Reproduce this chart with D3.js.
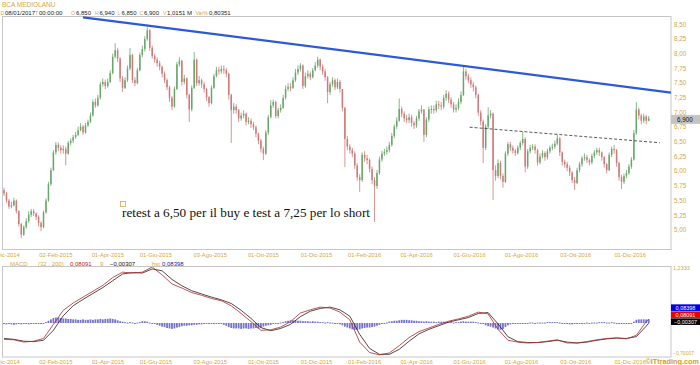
<!DOCTYPE html>
<html><head><meta charset="utf-8">
<script src="https://cdn.jsdelivr.net/npm/d3@7"></script>
<style>body{margin:0;background:#fff}svg{display:block}</style>
</head><body><svg id="c" width="700" height="365"></svg>
<script>
// ---------------- DATA (one candle = 2 trading days) ----------------
const title = "BCA MEDIOLANU";
const headerKeys = ["D","T","O","H","L","C","V","Var%"];
const headerVals = ["08/01/2017","00:00:00","6,850","6,940","6,850","6,900","1,0151 M","0,80351"];
const firstOpen = 5.68;
const close = [
5.62,5.50,5.40,5.42,5.50,5.32,5.10,4.92,5.05,5.15,
5.26,5.32,5.28,5.22,5.12,5.05,5.30,5.50,5.78,6.02,
6.32,6.45,6.40,6.36,6.38,6.30,6.48,6.52,6.58,6.62,
6.70,6.76,6.66,6.78,6.84,6.95,7.18,7.12,7.25,7.48,
7.52,7.45,7.52,7.67,7.95,8.06,7.92,7.58,7.42,7.55,
7.75,7.98,7.55,7.50,7.72,7.98,8.08,8.25,8.40,8.10,
7.96,7.90,7.84,7.78,7.66,7.55,7.43,7.25,7.10,7.40,
7.82,7.88,7.52,7.58,7.30,7.05,7.42,7.90,7.50,7.55,
7.48,7.40,7.26,7.16,7.42,7.62,7.72,7.70,7.74,7.72,
7.66,7.30,7.04,7.10,7.04,6.90,6.95,6.98,6.84,6.86,
6.80,6.75,6.64,6.52,6.38,6.30,6.66,6.92,7.12,7.18,
6.94,7.04,7.08,7.25,7.40,7.44,7.42,7.55,7.68,7.74,
7.80,7.45,7.62,7.66,7.60,7.72,7.80,7.90,7.78,7.70,
7.60,7.35,7.48,7.55,7.43,7.52,7.40,7.08,6.55,6.42,
6.36,6.30,6.10,5.90,5.85,6.28,6.22,6.19,6.04,5.85,
5.75,5.97,6.20,6.30,6.33,6.36,6.45,6.60,6.76,6.86,
7.06,6.98,6.90,6.87,6.92,6.82,6.78,6.90,7.02,7.05,
6.62,6.88,7.05,7.06,7.04,7.14,7.12,7.10,7.25,7.32,
7.22,7.14,7.05,7.08,7.18,7.30,7.70,7.62,7.55,7.48,
7.43,7.30,7.00,6.85,6.40,6.76,6.95,6.98,6.02,5.92,
6.14,5.92,5.82,6.30,6.46,6.40,6.35,6.31,6.40,6.48,
6.55,6.08,6.34,6.40,6.42,6.36,6.15,6.25,6.31,6.24,
6.34,6.40,6.42,6.47,6.56,6.32,6.16,6.12,6.06,5.98,
5.85,5.80,6.02,6.12,6.22,6.24,6.19,6.15,6.26,6.32,
6.36,6.32,6.24,6.12,6.02,6.28,6.38,6.36,6.14,5.90,
5.82,5.92,5.97,6.08,6.20,6.65,7.05,6.95,6.86,6.93,
6.86,6.90];
const high = [
5.72,5.65,5.53,5.48,5.55,5.52,5.34,5.12,5.08,5.20,
5.32,5.36,5.36,5.30,5.25,5.15,5.33,5.54,5.82,6.06,
6.36,6.50,6.49,6.44,6.44,6.42,6.52,6.56,6.62,6.67,
6.76,6.82,6.79,6.82,6.88,7.00,7.22,7.24,7.30,7.52,
7.58,7.56,7.58,7.72,8.00,8.18,8.10,7.94,7.62,7.60,
7.80,8.10,8.00,7.60,7.76,8.02,8.14,8.30,8.45,8.42,
8.14,8.00,7.94,7.88,7.80,7.70,7.58,7.46,7.28,7.44,
7.86,7.94,7.90,7.64,7.60,7.32,7.46,8.03,7.92,7.62,
7.58,7.52,7.42,7.28,7.46,7.66,7.78,7.78,7.80,7.80,
7.76,7.68,7.32,7.16,7.14,7.06,7.00,7.04,7.00,6.92,
6.90,6.84,6.78,6.66,6.55,6.42,6.70,6.96,7.21,7.22,
7.20,7.08,7.14,7.30,7.46,7.50,7.50,7.60,7.74,7.80,
7.84,7.82,7.68,7.72,7.70,7.76,7.86,7.95,7.92,7.82,
7.74,7.62,7.52,7.60,7.58,7.58,7.56,7.40,7.10,6.60,
6.46,6.40,6.34,6.14,5.95,6.32,6.34,6.28,6.22,6.08,
5.90,6.02,6.25,6.35,6.38,6.42,6.50,6.65,6.80,6.92,
7.24,7.10,7.02,6.96,6.98,6.96,6.86,6.94,7.06,7.12,
7.06,6.92,7.10,7.12,7.12,7.20,7.20,7.18,7.30,7.38,
7.36,7.26,7.18,7.14,7.24,7.36,7.78,7.74,7.66,7.60,
7.52,7.46,7.32,7.04,6.88,6.80,7.09,7.04,7.00,6.10,
6.20,6.18,5.96,6.34,6.50,6.50,6.44,6.38,6.44,6.52,
6.67,6.58,6.38,6.45,6.46,6.46,6.38,6.30,6.36,6.34,
6.38,6.44,6.47,6.52,6.62,6.58,6.34,6.20,6.16,6.10,
6.00,5.90,6.06,6.16,6.26,6.30,6.28,6.22,6.30,6.36,
6.40,6.40,6.34,6.26,6.14,6.32,6.42,6.45,6.38,6.16,
5.94,5.96,6.02,6.12,6.24,6.70,7.18,7.08,6.98,6.98,
6.96,6.94];
const low = [
5.58,5.46,5.36,5.37,5.40,5.28,5.06,4.86,4.90,5.02,
5.12,5.22,5.24,5.17,5.06,4.98,5.03,5.28,5.48,5.75,
6.00,6.28,6.34,6.30,6.30,6.10,6.28,6.44,6.48,6.55,
6.60,6.68,6.62,6.64,6.75,6.82,6.93,7.08,7.10,7.22,
7.44,7.40,7.42,7.50,7.65,7.92,7.86,7.52,7.35,7.40,
7.52,7.72,7.50,7.45,7.48,7.70,7.94,8.04,8.22,8.05,
7.92,7.85,7.78,7.72,7.60,7.50,7.38,7.18,7.04,7.08,
7.38,7.78,7.46,7.48,7.24,6.84,7.02,7.40,7.45,7.46,
7.42,7.34,7.20,7.10,7.14,7.40,7.60,7.64,7.66,7.66,
7.60,7.22,6.48,6.98,6.98,6.84,6.86,6.90,6.78,6.80,
6.74,6.70,6.58,6.46,6.32,6.19,6.28,6.62,6.90,7.08,
6.90,6.90,7.00,7.06,7.22,7.36,7.36,7.40,7.52,7.64,
7.70,7.40,7.42,7.58,7.55,7.58,7.70,7.76,7.72,7.64,
7.54,7.16,7.30,7.44,7.38,7.40,7.34,7.02,6.07,6.36,
6.30,6.24,6.04,5.84,5.65,5.82,6.16,6.12,5.98,5.78,
5.14,5.70,5.94,6.16,6.26,6.28,6.32,6.42,6.56,6.72,
6.84,6.92,6.84,6.82,6.82,6.76,6.72,6.74,6.86,6.98,
6.50,6.58,6.84,6.98,6.98,7.00,7.06,7.04,7.06,7.20,
7.16,7.08,7.00,7.00,7.04,7.14,7.28,7.56,7.50,7.42,
7.36,7.24,6.94,6.78,6.14,6.36,6.72,6.90,5.51,5.84,
5.88,5.86,5.72,5.80,6.26,6.34,6.30,6.26,6.28,6.36,
6.44,5.98,6.04,6.30,6.36,6.30,6.10,6.12,6.22,6.18,
6.20,6.30,6.36,6.38,6.44,6.26,6.10,6.06,6.00,5.92,
5.80,5.68,5.78,5.98,6.08,6.18,6.14,6.10,6.12,6.22,
6.28,6.26,6.18,6.06,5.96,6.00,6.24,6.30,6.08,5.84,
5.70,5.78,5.88,5.94,6.04,6.18,6.62,6.88,6.80,6.82,
6.80,6.85];
const hist = [
-0.02,-0.03,-0.02,-0.03,-0.04,-0.03,-0.02,-0.03,-0.02,-0.02,
-0.03,-0.02,-0.01,-0.02,-0.02,-0.01,0.00,0.02,0.05,0.08,
0.11,0.12,0.12,0.11,0.10,0.10,0.09,0.09,0.08,0.08,
0.07,0.07,0.08,0.07,0.07,0.08,0.07,0.08,0.08,0.09,
0.08,0.09,0.09,0.10,0.09,0.08,0.06,0.04,0.03,0.02,
0.01,0.02,0.01,0.00,0.01,0.02,0.04,0.04,0.03,0.01,
-0.01,-0.02,-0.04,-0.06,-0.08,-0.09,-0.11,-0.12,-0.13,-0.12,
-0.10,-0.09,-0.07,-0.06,-0.06,-0.05,-0.05,-0.04,-0.04,-0.03,
-0.03,-0.02,-0.02,-0.01,-0.01,-0.01,0.00,-0.01,-0.02,-0.04,
-0.06,-0.09,-0.11,-0.12,-0.12,-0.12,-0.13,-0.12,-0.12,-0.13,
-0.12,-0.12,-0.11,-0.12,-0.10,-0.08,-0.06,-0.05,-0.04,-0.02,
-0.01,0.00,0.01,0.02,0.04,0.05,0.06,0.06,0.06,0.05,
0.05,0.04,0.04,0.04,0.03,0.04,0.03,0.03,0.02,0.02,
0.01,0.02,0.01,0.01,0.00,-0.01,-0.03,-0.05,-0.08,-0.10,
-0.12,-0.14,-0.15,-0.15,-0.14,-0.12,-0.11,-0.10,-0.10,-0.09,
-0.08,-0.06,-0.04,-0.02,0.00,0.01,0.03,0.04,0.05,0.05,
0.06,0.07,0.07,0.07,0.06,0.06,0.05,0.05,0.04,0.04,
0.03,0.04,0.03,0.03,0.03,0.02,0.03,0.03,0.03,0.02,
0.02,0.02,0.01,0.02,0.02,0.03,0.04,0.03,0.03,0.03,
0.03,0.02,0.01,0.00,-0.02,-0.05,-0.07,-0.08,-0.10,-0.12,
-0.14,-0.15,-0.13,-0.09,-0.05,-0.03,-0.02,-0.01,0.00,-0.01,
0.00,-0.01,0.00,0.01,0.01,0.00,0.01,0.01,0.01,0.01,
0.02,0.02,0.02,0.02,0.02,0.01,-0.01,-0.02,-0.02,-0.03,
-0.03,-0.02,-0.02,-0.01,0.00,0.00,0.01,0.00,0.01,0.01,
0.01,0.02,0.02,0.02,0.01,0.01,0.02,0.01,0.00,-0.01,
-0.01,-0.01,0.00,-0.01,0.00,0.03,0.07,0.08,0.08,0.08,
0.08,0.08398];
const macdIdx = [0,4,8,12,16,20,24,28,32,36,40,44,48,52,56,60,64,68,72,76,80,84,88,92,96,100,
104,108,112,116,120,124,128,132,136,140,144,148,152,156,160,164,168,172,176,180,184,188,192,196,
200,204,208,212,216,220,224,228,232,236,240,244,248,252,256,260,261];
const macdLine = [-0.36,-0.37,-0.42,-0.40,-0.34,-0.03,0.28,0.44,0.57,0.70,0.83,1.00,1.12,1.10,1.12,1.2333,
1.06,0.86,0.77,0.67,0.61,0.54,0.49,0.38,0.21,0.03,-0.16,-0.15,-0.09,0.03,0.22,0.29,0.35,0.33,0.24,0.07,
-0.42,-0.65,-0.70,-0.66,-0.50,-0.32,-0.19,-0.11,-0.03,0.04,0.09,0.15,0.24,0.20,-0.14,-0.38,-0.42,-0.44,
-0.43,-0.40,-0.37,-0.44,-0.44,-0.41,-0.37,-0.34,-0.33,-0.35,-0.27,0.03,0.08091];
const signalLine = [-0.34,-0.36,-0.40,-0.41,-0.38,-0.16,0.16,0.38,0.52,0.65,0.78,0.93,1.08,1.11,1.10,1.19,
1.15,0.96,0.82,0.71,0.64,0.57,0.51,0.43,0.28,0.10,-0.10,-0.17,-0.12,-0.03,0.14,0.26,0.32,0.35,0.29,0.15,
-0.25,-0.56,-0.69,-0.69,-0.58,-0.40,-0.24,-0.14,-0.06,0.02,0.07,0.12,0.21,0.23,-0.02,-0.30,-0.41,-0.43,
-0.43,-0.41,-0.38,-0.42,-0.44,-0.42,-0.38,-0.35,-0.33,-0.34,-0.30,-0.07,-0.00307];
const macdMax = 1.2333, macdMin = -0.70007;
const priceTicks = [5.00,5.25,5.50,5.75,6.00,6.25,6.50,6.75,7.00,7.25,7.50,7.75,8.00,8.25,8.50];
const tickIdx = [0,21,42,61.5,83.5,105,126.5,146,167,188.5,209.5,231.5,253.5];
const tickLabels = ["01-Dic-2014","02-Feb-2015","01-Apr-2015","01-Giu-2015","03-Ago-2015","01-Ott-2015",
"01-Dic-2015","01-Feb-2016","01-Apr-2016","01-Giu-2016","01-Ago-2016","03-Ott-2016","01-Dic-2016"];
const trendIdx = [32,270], trendPrice = [8.62,7.34];
const supportIdx = [188.5,265.5], supportPrice = [6.75,6.485];
const note = "retest a 6,50 per il buy e test a 7,25 per lo short";

// ---------------- DRAWING ----------------
const svg = d3.select("#c");
const gold = "#d4a843", font = "'Liberation Sans', Arial, sans-serif";
const N = close.length;
const x = d3.scaleLinear().domain([0, N-1]).range([4, 648.7]);
const y = d3.scaleLinear().domain([5, 8.5]).range([230, 24.4]);
const ym = d3.scaleLinear().domain([macdMin, macdMax]).range([354.8, 267]);
const fmt2 = v => d3.format(".2f")(v).replace(".", ",");

svg.append("rect").attr("width",700).attr("height",365).attr("fill","#fff");
const defs = svg.append("defs");
defs.append("clipPath").attr("id","cp").append("rect").attr("x",3).attr("y",16).attr("width",668).attr("height",233.5);
defs.append("clipPath").attr("id","cm").append("rect").attr("x",3).attr("y",267).attr("width",668).attr("height",90);

// panel frames
svg.append("rect").attr("x",2.5).attr("y",16.5).attr("width",668.5).attr("height",233).attr("fill","none").attr("stroke","#c6c6c6");
svg.append("rect").attr("x",2.5).attr("y",266.5).attr("width",668.5).attr("height",90.5).attr("fill","none").attr("stroke","#c6c6c6");

// header
svg.append("text").attr("x",2).attr("y",7).attr("font-family",font).attr("font-size",6.5).attr("fill",gold).text(title);
const hx = [0.5,35,71,95,117.5,139.5,163,195.5], vx = [5,39,76,99.5,121.5,144,167,209];
headerKeys.forEach((k,i)=>{
  svg.append("text").attr("x",hx[i]).attr("y",15).attr("font-family",font).attr("font-size",5.2).attr("fill",gold).text(k);
  svg.append("text").attr("x",vx[i]).attr("y",15).attr("font-family",font).attr("font-size",6).attr("fill","#222").text(headerVals[i]);
});

// candles
const candles = close.map((c,i)=>({i, o: i ? close[i-1] : firstOpen, h: high[i], l: low[i], c}));
const cg = svg.append("g").attr("clip-path","url(#cp)");
const up = "#6aa66c", dn = "#cf7a78";
cg.selectAll("line.w").data(candles).join("line")
  .attr("x1",d=>x(d.i)).attr("x2",d=>x(d.i)).attr("y1",d=>y(d.h)).attr("y2",d=>y(d.l))
  .attr("stroke",d=>d.c>=d.o?up:dn).attr("stroke-width",0.8);
cg.selectAll("rect.b").data(candles).join("rect")
  .attr("x",d=>x(d.i)-0.75).attr("width",1.5)
  .attr("y",d=>y(Math.max(d.o,d.c))).attr("height",d=>Math.max(1,Math.abs(y(d.o)-y(d.c))))
  .attr("fill",d=>d.c>=d.o?up:dn);

// trend lines
cg.append("line").attr("x1",x(trendIdx[0])).attr("y1",y(trendPrice[0])).attr("x2",x(trendIdx[1])).attr("y2",y(trendPrice[1]))
  .attr("stroke","#2a5ad8").attr("stroke-width",2.2);
cg.append("line").attr("x1",x(supportIdx[0])).attr("y1",y(supportPrice[0])).attr("x2",x(supportIdx[1])).attr("y2",y(supportPrice[1]))
  .attr("stroke","#444").attr("stroke-width",0.9).attr("stroke-dasharray","3,2");

// price axis
svg.selectAll("text.py").data(priceTicks).join("text").attr("class","py")
  .attr("x",674).attr("y",d=>y(d)+2.2).attr("font-family",font).attr("font-size",6.3).attr("fill",gold).text(fmt2);
const last = close[N-1];
svg.append("rect").attr("x",671).attr("y",y(last)-3.5).attr("width",29).attr("height",9).attr("fill","#c4c4c4");
svg.append("text").attr("x",677).attr("y",y(last)+3.3).attr("font-family",font).attr("font-size",6.3).attr("fill","#111")
  .text(d3.format(".3f")(last).replace(".", ","));

// annotation
svg.append("rect").attr("x",120.5).attr("y",201.5).attr("width",5).attr("height",5).attr("fill","none").attr("stroke","#d8a848").attr("stroke-width",0.8);
svg.append("text").attr("x",122).attr("y",217).attr("font-family","'Liberation Serif','Times New Roman',serif")
  .attr("font-size",13.2).attr("fill","#111").attr("textLength",248).attr("lengthAdjust","spacingAndGlyphs").text(note);

// x-axis labels (under both panels)
[257, 363.5].forEach(by=>{
  svg.selectAll(null).data(tickIdx).join("text").attr("x",d=>x(d)).attr("y",by).attr("text-anchor","middle")
    .attr("font-family",font).attr("font-size",5.8).attr("fill",gold).text((d,i)=>tickLabels[i]);
});

// MACD legend
const leg = [["MACD",10,gold],["(32 , 200)",38,gold],[d3.format(".5f")(macdLine[macdLine.length-1]).replace(".",","),70,"#d02020"],
  ["9",100,gold],[d3.format(".5f")(signalLine[signalLine.length-1]).replace(".",","),110,"#111"],["hst",152,gold],
  [d3.format(".5f")(hist[N-1]).replace(".",","),162,"#1a1a9a"]];
leg.forEach(([t,lx,c])=>svg.append("text").attr("x",lx).attr("y",265.5).attr("font-family",font).attr("font-size",6).attr("fill",c).text(t));

// histogram
const mg = svg.append("g").attr("clip-path","url(#cm)");
mg.selectAll("rect.h").data(hist).join("rect")
  .attr("x",(d,i)=>x(i)-0.9).attr("width",1.8)
  .attr("y",d=>Math.min(ym(d),ym(0))).attr("height",d=>Math.max(1,Math.abs(ym(d)-ym(0))))
  .attr("fill","#7474cc");
// MACD / signal lines
const ln = arr => d3.line().x((d,i)=>x(macdIdx[i])).y(d=>ym(d))(arr);
mg.append("path").attr("d",ln(signalLine)).attr("fill","none").attr("stroke","#2a1c1c").attr("stroke-width",0.8);
mg.append("path").attr("d",ln(macdLine)).attr("fill","none").attr("stroke","#b02a2a").attr("stroke-width",0.8);

// MACD scale labels
svg.append("text").attr("x",673).attr("y",270).attr("font-family",font).attr("font-size",5.5).attr("fill",gold)
  .text(d3.format(".4f")(macdMax).replace(".",","));
svg.append("text").attr("x",673).attr("y",354.5).attr("font-family",font).attr("font-size",5).attr("fill",gold)
  .text(d3.format(".5f")(macdMin).replace(".",","));

// value tags
const sy = ym(signalLine[signalLine.length-1]) - 1.5;
const tags = [[sy-14,"#0000ee",hist[N-1]],[sy-7,"#ee0000",macdLine[macdLine.length-1]],[sy,"#000",signalLine[signalLine.length-1]]];
tags.forEach(([cy,c,v])=>{
  svg.append("rect").attr("x",671).attr("y",cy-3.3).attr("width",29).attr("height",6.6).attr("fill",c);
  svg.append("text").attr("x",685.5).attr("y",cy+2).attr("text-anchor","middle").attr("font-family",font).attr("font-size",5.5)
    .attr("fill","#fff").text(d3.format(".5f")(v).replace(".",","));
});

// watermark
svg.append("text").attr("x",699).attr("y",364).attr("text-anchor","end").attr("font-family",font).attr("font-weight","bold")
  .attr("font-size",7.3).attr("fill","#d0a030").text("©ITtrading.com");
</script></body></html>
